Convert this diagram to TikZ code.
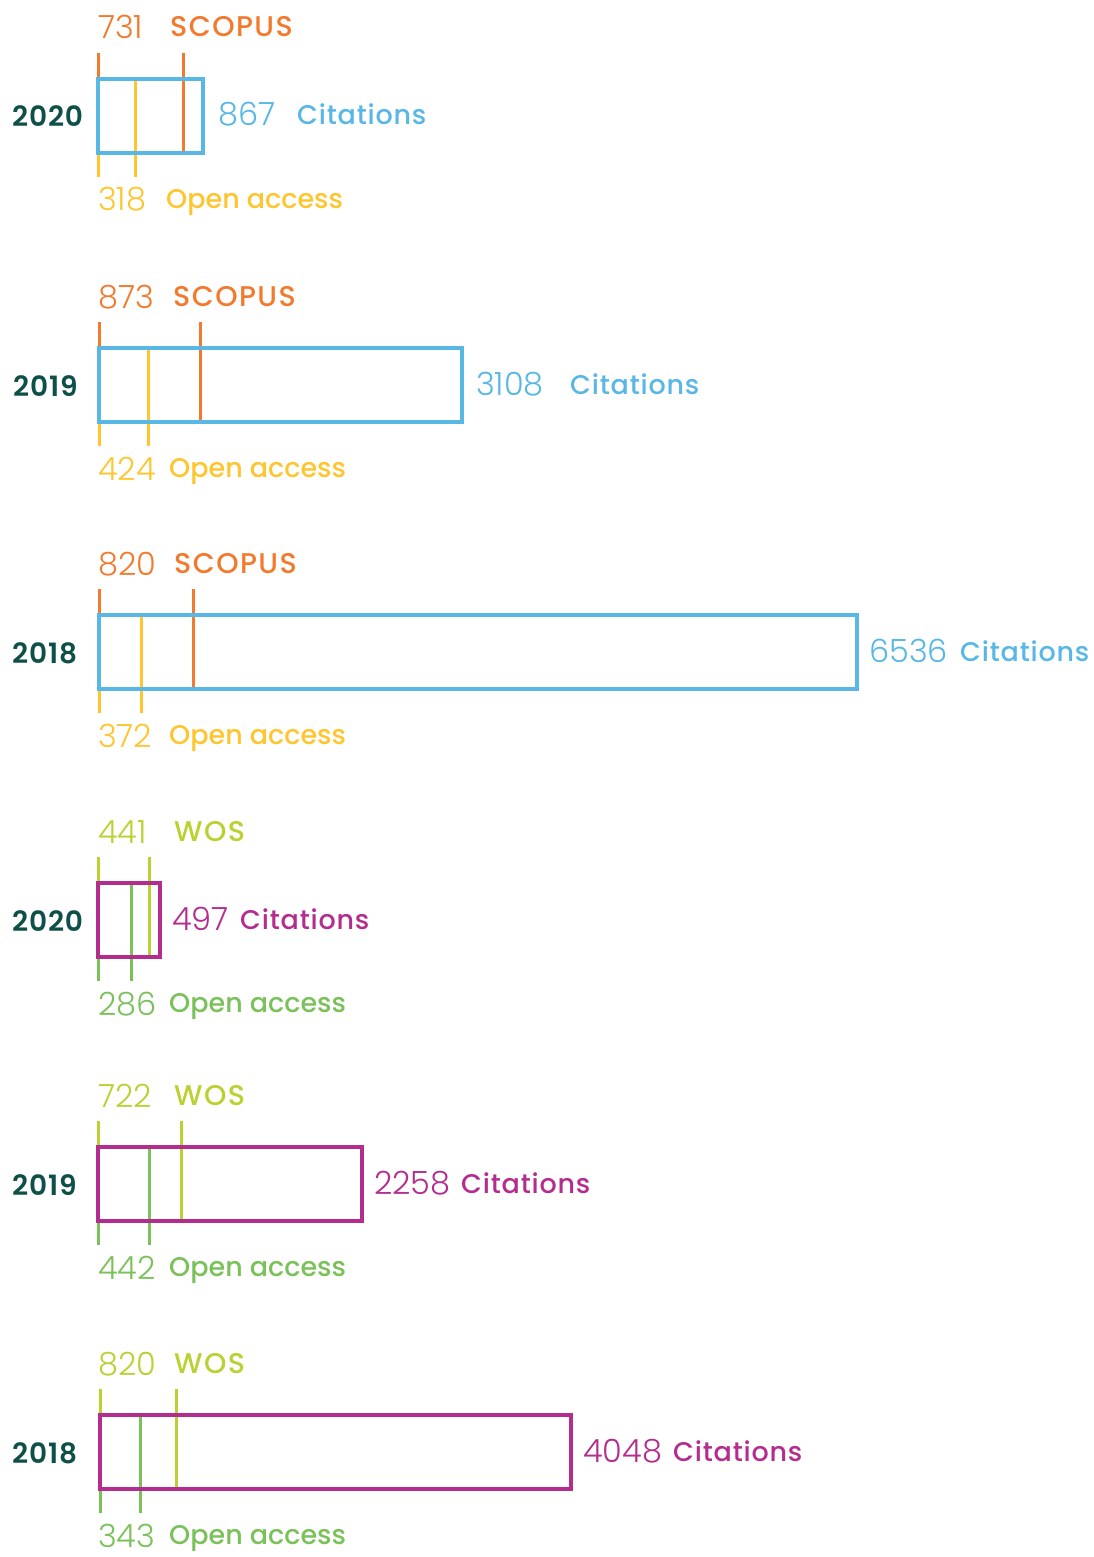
\documentclass[tikz,border=0pt]{standalone}
\usepackage{fontspec}
\newfontfamily\numfont{Poppins Light}
\newfontfamily\labfont{Poppins Medium}
\newfontfamily\capfont{Poppins Medium}[LetterSpace=5]
\newfontfamily\citfont{Poppins Medium}[LetterSpace=3]
\newfontfamily\yearfont{Poppins SemiBold}[LetterSpace=3]
\definecolor{cOrange}{HTML}{F37A2C}
\definecolor{cYellow}{HTML}{FEC52E}
\definecolor{cBlue}{HTML}{58B7E5}
\definecolor{cTeal}{HTML}{0E4F48}
\definecolor{cMagenta}{HTML}{B42D8E}
\definecolor{cLime}{HTML}{BDD031}
\definecolor{cGreen}{HTML}{7AC15A}
\tikzset{
  numtxt/.style={anchor=base west,inner sep=0pt,font=\numfont\fontsize{32}{32}\selectfont},
  labtxt/.style={anchor=base west,inner sep=0pt,font=\labfont\fontsize{27}{27}\selectfont},
  captxt/.style={anchor=base west,inner sep=0pt,font=\capfont\fontsize{28.5}{28.5}\selectfont},
  cittxt/.style={anchor=base west,inner sep=0pt,font=\citfont\fontsize{27}{27}\selectfont},
  yeartxt/.style={anchor=base west,inner sep=0pt,text=cTeal,font=\yearfont\fontsize{28}{28}\selectfont},
  tick/.style={line width=3pt},
  bar/.style={line width=3.2pt},
}
\begin{document}
\begin{tikzpicture}[x=1pt,y=-1pt]
\useasboundingbox (0,0) rectangle (1093,1557);
\foreach \id/\T/\L/\R/\xa/\xb/\ct/\cb/\cx/\yr/\yx/\tn/\tl/\tlx/\cn/\cnx/\clx/\bn/\blx in {
 a/79/98/203/183/135/cOrange/cYellow/cBlue/2020/12/731/SCOPUS/170/867/218/297/318/166,
 b/348/99/462/200/148/cOrange/cYellow/cBlue/2019/13/873/SCOPUS/173/3108/476/570/424/169,
 c/615/99/857/193/141/cOrange/cYellow/cBlue/2018/12/820/SCOPUS/174/6536/869/960/372/169,
 d/883/98/160/149/131/cLime/cGreen/cMagenta/2020/12/441/WOS/174/497/172/240/286/169,
 e/1147/98/362/181/149/cLime/cGreen/cMagenta/2019/12/722/WOS/174/2258/374/461/442/169,
 f/1415/100/571/176/140/cLime/cGreen/cMagenta/2018/12/820/WOS/174/4048/583/673/343/169}{
  % top ticks
  \draw[tick,\ct] (\L,\T-26) -- (\L,\T+37);
  \draw[tick,\ct] (\xa,\T-26) -- (\xa,\T+72);
  % bottom ticks
  \draw[tick,\cb] (\L,\T+37) -- (\L,\T+98);
  \draw[tick,\cb] (\xb,\T+2) -- (\xb,\T+98);
  % bar
  \draw[bar,\cx] (\L,\T) rectangle (\R,\T+74);
  % texts
  \node[yeartxt] (y\id) at (\yx,\T+48) {\yr};
  \node[numtxt,text=\ct] (tn\id) at (98,\T-40) {\tn};
  \node[captxt,text=\ct] (tl\id) at (\tlx,\T-42) {\tl};
  \node[numtxt,text=\cx] (cn\id) at (\cnx,\T+47) {\cn};
  \node[cittxt,text=\cx] (cl\id) at (\clx,\T+46) {Citations};
  \node[numtxt,text=\cb] (bn\id) at (98,\T+132) {\bn};
  \node[labtxt,text=\cb] (bl\id) at (\blx,\T+129) {Open access};
}
\end{tikzpicture}
\end{document}
